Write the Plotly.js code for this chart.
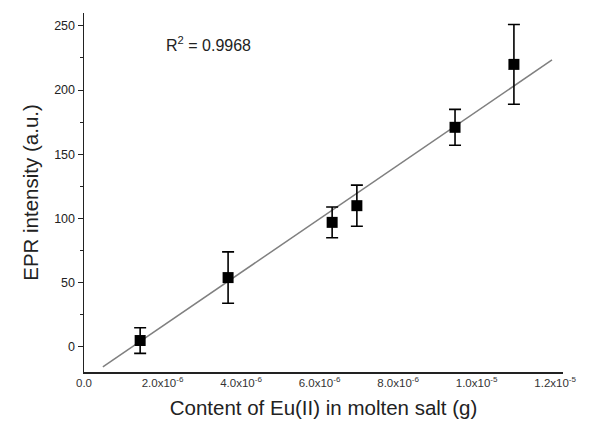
<!DOCTYPE html>
<html><head><meta charset="utf-8">
<script src="https://cdn.plot.ly/plotly-3.0.1.min.js"></script>
<style>body{margin:0;background:#fff}#c{width:589px;height:428px}</style>
</head><body><div id="c"></div>
<script>
const xVals = [1.43e-6, 3.67e-6, 6.32e-6, 6.95e-6, 9.45e-6, 10.95e-6];
const yVals = [5, 54, 97, 110, 171, 220];
const yErr = [10, 20, 12, 16, 14, 31];
const fitX = [0.48e-6, 11.92e-6];
const fitY = [-15.6, 223.5];
const xTickVals = [0, 2e-6, 4e-6, 6e-6, 8e-6, 1.0e-5, 1.2e-5];
const xTickText = ['0.0', '2.0x10<sup>-6</sup>', '4.0x10<sup>-6</sup>', '6.0x10<sup>-6</sup>', '8.0x10<sup>-6</sup>', '1.0x10<sup>-5</sup>', '1.2x10<sup>-5</sup>'];
const yTickVals = [0, 50, 100, 150, 200, 250];

const traces = [
  {x: fitX, y: fitY, mode: 'lines', line: {color: '#808080', width: 1.5}, hoverinfo: 'skip'},
  {x: xVals, y: yVals, mode: 'markers', marker: {symbol: 'square', color: '#000', size: 11},
   error_y: {type: 'data', array: yErr, visible: true, color: '#000', thickness: 1.6, width: 6}}
];
const layout = {
  width: 589, height: 428,
  margin: {l: 84, r: 26, t: 13, b: 56},
  paper_bgcolor: '#fff', plot_bgcolor: '#fff',
  showlegend: false,
  font: {family: 'Liberation Sans, Arial, sans-serif', color: '#222'},
  xaxis: {range: [0, 1.22e-5], tickvals: xTickVals, ticktext: xTickText,
    showgrid: false, zeroline: false, showline: true, linecolor: '#222', linewidth: 1.5,
    ticks: '', tickfont: {size: 11.5, color: '#333'},
    title: {text: 'Content of Eu(II) in molten salt (g)', font: {size: 20.5, color: '#222'}, standoff: 12}},
  yaxis: {range: [-19.5, 260], tickvals: yTickVals,
    showgrid: false, zeroline: false, showline: true, linecolor: '#222', linewidth: 1.5,
    ticks: 'outside', ticklen: 5, tickcolor: '#222', tickfont: {size: 12.5, color: '#222'},
    minor: {tickvals: [25, 75, 125, 175, 225], ticks: 'outside', ticklen: 3, tickcolor: '#222'},
    title: {text: 'EPR intensity (a.u.)', font: {size: 20.5, color: '#222'}, standoff: 10}},
  annotations: [{xref: 'paper', yref: 'paper', x: 0.168, y: 0.915, xanchor: 'left', yanchor: 'middle',
    text: 'R<sup>2</sup> = 0.9968', showarrow: false, font: {size: 16, color: '#222'}}]
};
Plotly.newPlot('c', traces, layout, {displayModeBar: false, staticPlot: true});
</script></body></html>
